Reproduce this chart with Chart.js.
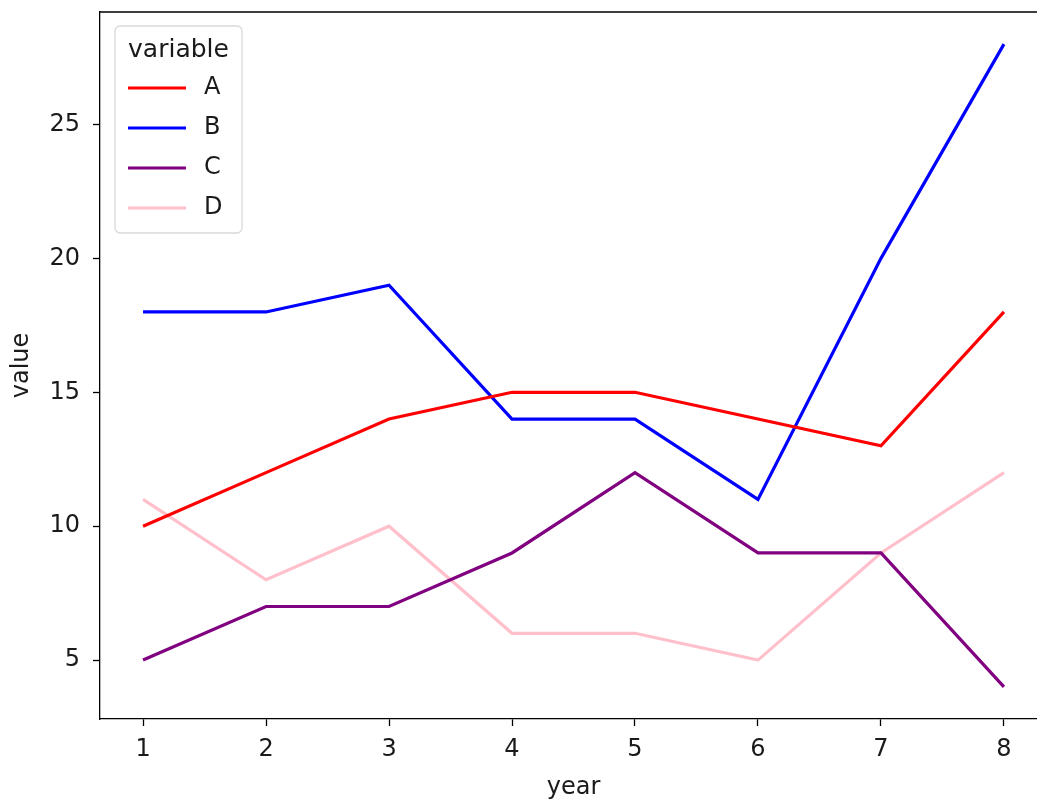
<!DOCTYPE html>
<html lang="en">
<head>
<meta charset="utf-8">
<title>value by year</title>
<script src="https://cdn.jsdelivr.net/npm/chart.js"></script>
<style>
  html, body { margin: 0; padding: 0; background: #fff; overflow: hidden; }
  #wrap { width: 1037px; height: 803px; overflow: hidden; }
  canvas { display: block; }
</style>
</head>
<body>
<div id="wrap">
  <canvas id="myChart" width="1060" height="803"></canvas>
</div>
<script>
// data
const years = [1, 2, 3, 4, 5, 6, 7, 8];
const seriesA = [10, 12, 14, 15, 15, 14, 13, 18];
const seriesB = [18, 18, 19, 14, 14, 11, 20, 28];
const seriesC = [5, 7, 7, 9, 12, 9, 9, 4];
const seriesD = [11, 8, 10, 6, 6, 5, 9, 12];
const seriesNames = ['A', 'B', 'C', 'D'];
const yTicks = [5, 10, 15, 20, 25];

const colors = ['#ff0000', '#0000ff', '#800080', '#ffc0cb'];
const FONT = 'DejaVu Sans';
const TEXT = '#1a1a1a';

const toPoints = (vals) => vals.map((v, i) => ({ x: years[i], y: v }));

// top spine + legend box (matplotlib style)
const framePlugin = {
  id: 'frame',
  afterDraw(chart) {
    const { ctx, chartArea } = chart;
    ctx.save();
    ctx.strokeStyle = '#000';
    ctx.lineWidth = 1.3;
    ctx.beginPath();
    ctx.moveTo(chartArea.left, chartArea.top);
    ctx.lineTo(chartArea.right, chartArea.top);
    ctx.lineTo(chartArea.right, chartArea.bottom);
    ctx.stroke();

    // legend
    const x = 115, y = 26, w = 127, h = 207, r = 5;
    ctx.beginPath();
    ctx.roundRect(x, y, w, h, r);
    ctx.fillStyle = 'rgba(255,255,255,0.8)';
    ctx.fill();
    ctx.strokeStyle = '#d9d9d9';
    ctx.lineWidth = 1.3;
    ctx.stroke();

    ctx.fillStyle = TEXT;
    ctx.font = '25px "' + FONT + '"';
    ctx.textAlign = 'center';
    ctx.textBaseline = 'middle';
    ctx.fillText('variable', x + w / 2, 50);

    ctx.font = '24px "' + FONT + '"';
    chart.data.datasets.forEach((ds, i) => {
      const ly = 88 + i * 40;
      ctx.strokeStyle = ds.borderColor;
      ctx.lineWidth = 3.2;
      ctx.beginPath();
      ctx.moveTo(128, ly);
      ctx.lineTo(186, ly);
      ctx.stroke();
      ctx.fillStyle = TEXT;
      ctx.textAlign = 'left';
      ctx.fillText(ds.label, 204, ly);
    });
    ctx.restore();
  }
};

const ctx = document.getElementById('myChart').getContext('2d');
new Chart(ctx, {
  type: 'line',
  data: {
    datasets: [seriesA, seriesB, seriesC, seriesD].map((vals, i) => ({
      label: seriesNames[i],
      data: toPoints(vals),
      borderColor: colors[i],
      backgroundColor: colors[i],
      borderWidth: 3.2,
      pointRadius: 0,
      tension: 0,
      fill: false
    }))
  },
  options: {
    responsive: false,
    devicePixelRatio: 1,
    animation: false,
    layout: { padding: { left: 0, top: 12, right: 13, bottom: 0 } },
    plugins: {
      legend: { display: false },
      tooltip: { enabled: false }
    },
    scales: {
      x: {
        type: 'linear',
        min: 0.65,
        max: 8.35,
        afterBuildTicks: (s) => { s.ticks = years.map(v => ({ value: v })); },
        afterFit: (s) => { s.height = 84; s.paddingLeft = 0; s.paddingRight = 0; },
        grid: { display: true, drawOnChartArea: false, tickLength: 7, color: '#000', tickWidth: 1.3 },
        border: { display: true, color: '#000', width: 1.3 },
        ticks: { color: TEXT, font: { family: FONT, size: 24 }, padding: 9, maxRotation: 0 },
        title: { display: true, text: 'year', color: TEXT, font: { family: FONT, size: 24 }, padding: { top: 0, bottom: 1 } }
      },
      y: {
        min: 2.8,
        max: 29.2,
        afterBuildTicks: (s) => { s.ticks = yTicks.map(v => ({ value: v })); },
        afterFit: (s) => { s.width = 100; s.paddingTop = 0; s.paddingBottom = 0; },
        grid: { display: true, drawOnChartArea: false, tickLength: 7, color: '#000', tickWidth: 1.3 },
        border: { display: true, color: '#000', width: 1.3 },
        ticks: { color: TEXT, font: { family: FONT, size: 24 }, padding: 13 },
        title: { display: true, text: 'value', color: TEXT, font: { family: FONT, size: 24 }, padding: { top: 7, bottom: 0 } }
      }
    }
  },
  plugins: [framePlugin]
});
</script>
</body>
</html>
